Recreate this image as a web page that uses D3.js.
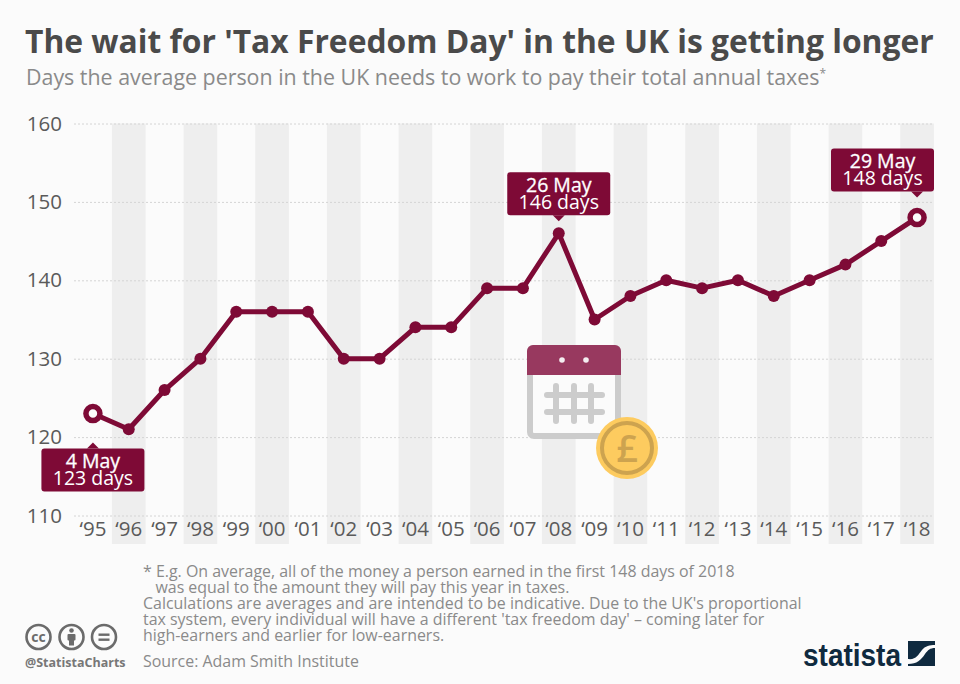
<!DOCTYPE html>
<html>
<head>
<meta charset="utf-8">
<script src="https://cdn.jsdelivr.net/npm/d3@7"></script>
<style>
html, body { margin: 0; padding: 0; background: #fbfbfb; }
svg { display: block; font-family: "Open Sans", sans-serif; }
</style>
</head>
<body>
<div id="chart"></div>
<script>
var years = ["95","96","97","98","99","00","01","02","03","04","05","06","07","08","09","10","11","12","13","14","15","16","17","18"];
var days = [123,121,126,130,136,136,136,130,130,134,134,139,139,146,135,138,140,139,140,138,140,142,145,148];
var yTicks = [110,120,130,140,150,160];
var calloutYears = ["95","08","18"];
var calloutDates = ["4 May","26 May","29 May"];
var calloutDays = ["123 days","146 days","148 days"];
var ringYears = ["95","18"];
var footnotes = [
    "* E.g. On average, all of the money a person earned in the first 148 days of 2018",
    "   was equal to the amount they will pay this year in taxes.",
    "Calculations are averages and are intended to be indicative. Due to the UK's proportional",
    "tax system, every individual will have a different 'tax freedom day' \u2013 coming later for",
    "high-earners and earlier for low-earners."
];

var WINE = "#7e0a36";
var width = 960, height = 684;

var svg = d3.select("#chart").append("svg")
    .attr("width", width)
    .attr("height", height);

svg.append("rect").attr("width", width).attr("height", height).attr("fill", "#fbfbfb");

svg.append("text").attr("x", 25).attr("y", 53)
    .attr("font-size", 31.8).attr("font-weight", 700).attr("fill", "#4a4a4a")
    .text("The wait for 'Tax Freedom Day' in the UK is getting longer");

var sub = svg.append("text").attr("x", 26).attr("y", 85)
    .attr("font-size", 21.4).attr("fill", "#8a8a8a")
    .text("Days the average person in the UK needs to work to pay their total annual taxes");
sub.append("tspan").attr("font-size", 12).attr("dy", -7).text("*");

var x = d3.scaleBand().domain(years).range([75, 935]).paddingInner(0.06).paddingOuter(0.03);
var y = d3.scaleLinear().domain([110, 160]).range([515.5, 123.5]);

// zebra bands behind every second year
svg.append("g").selectAll("rect")
    .data(years.filter(function(d, i){ return i % 2 === 1; }))
    .enter().append("rect")
    .attr("x", function(d){ return x(d); })
    .attr("y", y(160))
    .attr("width", x.bandwidth())
    .attr("height", 544 - y(160))
    .attr("fill", "#eeeeee");

var yAxis = svg.append("g")
    .attr("transform", "translate(74,0)")
    .call(d3.axisLeft(y).tickValues(yTicks).tickSize(0).tickPadding(12));
yAxis.select(".domain").remove();
yAxis.selectAll("text").attr("font-size", 20.5).attr("fill", "#5a5a5a")
    .attr("font-family", "'Open Sans', sans-serif");
yAxis.selectAll("line")
    .attr("x2", 860)
    .attr("stroke", "#d4d4d4")
    .attr("stroke-dasharray", "2,2");

var xAxis = svg.append("g")
    .attr("transform", "translate(0,518)")
    .call(d3.axisBottom(x).tickSize(0).tickPadding(3).tickFormat(function(d){ return "\u2018" + d; }));
xAxis.select(".domain").remove();
xAxis.selectAll("text").attr("font-size", 20.5).attr("fill", "#5a5a5a")
    .attr("font-family", "'Open Sans', sans-serif");

function cx(d){ return x(d) + x.bandwidth() / 2; }

// calendar icon
var cal = svg.append("g").attr("transform", "translate(527,345)");
cal.append("rect").attr("x", 3).attr("y", 3).attr("width", 88).attr("height", 88).attr("rx", 4)
    .attr("fill", "#fbfbfb").attr("stroke", "#cccccc").attr("stroke-width", 6);
cal.append("path").attr("d", "M0,30V6a6,6 0 0 1 6,-6H88a6,6 0 0 1 6,6V30Z").attr("fill", "#98395f");
[29, 47, 64].forEach(function(px){
    cal.append("line").attr("x1", px).attr("x2", px).attr("y1", 41).attr("y2", 76)
        .attr("stroke", "#cccccc").attr("stroke-width", 6).attr("stroke-linecap", "round");
});
[50, 67].forEach(function(py){
    cal.append("line").attr("x1", 20).attr("x2", 75).attr("y1", py).attr("y2", py)
        .attr("stroke", "#cccccc").attr("stroke-width", 6).attr("stroke-linecap", "round");
});
[35, 59].forEach(function(px){
    cal.append("circle").attr("cx", px).attr("cy", 15).attr("r", 2.8).attr("fill", "#f4eef1");
});
svg.append("circle").attr("cx", 627).attr("cy", 448).attr("r", 31).attr("fill", "#fdcb5f");
svg.append("circle").attr("cx", 627).attr("cy", 448).attr("r", 25).attr("fill", "none")
    .attr("stroke", "#cda34f").attr("stroke-width", 4);
svg.append("text").attr("x", 627).attr("y", 462).attr("text-anchor", "middle")
    .attr("font-size", 38).attr("font-weight", 600).attr("fill", "#cda34f").text("\u00a3");

// line and dots
var line = d3.line()
    .x(function(d, i){ return cx(years[i]); })
    .y(function(d){ return y(d); });

svg.append("path").datum(days)
    .attr("d", line)
    .attr("fill", "none")
    .attr("stroke", WINE)
    .attr("stroke-width", 5)
    .attr("stroke-linejoin", "round");

svg.append("g").selectAll("circle")
    .data(days)
    .enter().append("circle")
    .attr("cx", function(d, i){ return cx(years[i]); })
    .attr("cy", function(d){ return y(d); })
    .attr("r", function(d, i){ return ringYears.indexOf(years[i]) >= 0 ? 7 : 6; })
    .attr("fill", function(d, i){ return ringYears.indexOf(years[i]) >= 0 ? "#fbfbfb" : WINE; })
    .attr("stroke", WINE)
    .attr("stroke-width", function(d, i){ return ringYears.indexOf(years[i]) >= 0 ? 5.5 : 0; });

// callouts, the first hangs below its point
calloutYears.forEach(function(yr, i){
    var px = cx(yr), py = y(days[years.indexOf(yr)]);
    var below = i === 0;
    var boxW = 103, boxH = 43, tip = 6;
    var gap = i === 0 ? 29 : i === 1 ? 12 : 20;
    var boxX = Math.min(px - boxW / 2, 934 - boxW);
    var boxY = below ? py + gap + tip : py - gap - tip - boxH;
    var g = svg.append("g");
    g.append("rect").attr("x", boxX).attr("y", boxY).attr("width", boxW).attr("height", boxH)
        .attr("rx", 3).attr("fill", WINE);
    var edge = below ? boxY : boxY + boxH;
    var dir = below ? -1 : 1;
    g.append("path")
        .attr("d", "M" + (px - 6) + "," + edge + "L" + px + "," + (edge + dir * tip) + "L" + (px + 6) + "," + edge + "Z")
        .attr("fill", WINE);
    g.append("text").attr("x", boxX + boxW / 2).attr("y", boxY + 19.5)
        .attr("text-anchor", "middle").attr("font-size", 19.5)
        .attr("stroke", "#ffffff").attr("stroke-width", 0.3)
        .attr("fill", "#ffffff").text(calloutDates[i]);
    g.append("text").attr("x", boxX + boxW / 2).attr("y", boxY + 36.5)
        .attr("text-anchor", "middle").attr("font-size", 19.5)
        .attr("fill", "#ffffff").text(calloutDays[i]);
});

// footnote
svg.append("g").selectAll("text")
    .data(footnotes)
    .enter().append("text")
    .attr("x", 143)
    .attr("y", function(d, i){ return 577 + i * 16; })
    .style("white-space", "pre")
    .attr("font-size", 15.95)
    .attr("fill", "#8a8a8a")
    .text(function(d){ return d; });

svg.append("text").attr("x", 143).attr("y", 667)
    .attr("font-size", 15.95).attr("fill", "#8a8a8a").text("Source: Adam Smith Institute");

// licence icons
var icons = svg.append("g").attr("fill", "none").attr("stroke", "#6b6b6b").attr("stroke-width", 2.6);
[38.5, 71.5, 104].forEach(function(px){
    icons.append("circle").attr("cx", px).attr("cy", 637).attr("r", 12);
});
svg.append("text").attr("x", 38.5).attr("y", 642).attr("text-anchor", "middle")
    .attr("font-size", 14).attr("font-weight", 700).attr("fill", "#6b6b6b").text("cc");
svg.append("circle").attr("cx", 71.5).attr("cy", 630.5).attr("r", 2.3).attr("fill", "#6b6b6b");
svg.append("rect").attr("x", 67.5).attr("y", 634).attr("width", 8).attr("height", 6.5).attr("rx", 1).attr("fill", "#6b6b6b");
svg.append("rect").attr("x", 69).attr("y", 639).attr("width", 5).attr("height", 6.5).attr("fill", "#6b6b6b");
[634.5, 639.5].forEach(function(py){
    svg.append("rect").attr("x", 98.5).attr("y", py - 1).attr("width", 11).attr("height", 2.4).attr("fill", "#6b6b6b");
});
svg.append("text").attr("x", 25).attr("y", 667)
    .attr("font-size", 12.5).attr("font-weight", 700).attr("fill", "#777777").text("@StatistaCharts");

// statista logo
svg.append("text").attr("x", 803).attr("y", 666)
    .attr("font-family", "'Liberation Sans Narrow', 'Liberation Sans', sans-serif")
    .attr("font-size", 32).attr("font-weight", 700).attr("fill", "#0f2a3f")
    .attr("textLength", 98).attr("lengthAdjust", "spacingAndGlyphs")
    .text("statista");
svg.append("rect").attr("x", 908).attr("y", 641).attr("width", 27).attr("height", 25).attr("fill", "#0f2a3f");
svg.append("path").attr("fill", "#fbfbfb")
    .attr("d", "M908,659C916,660 918,655 922,650C925,646 930,645 935,645V648C930,648 928,650 925,654C921,660 917,664 908,664Z");
</script>
</body>
</html>
